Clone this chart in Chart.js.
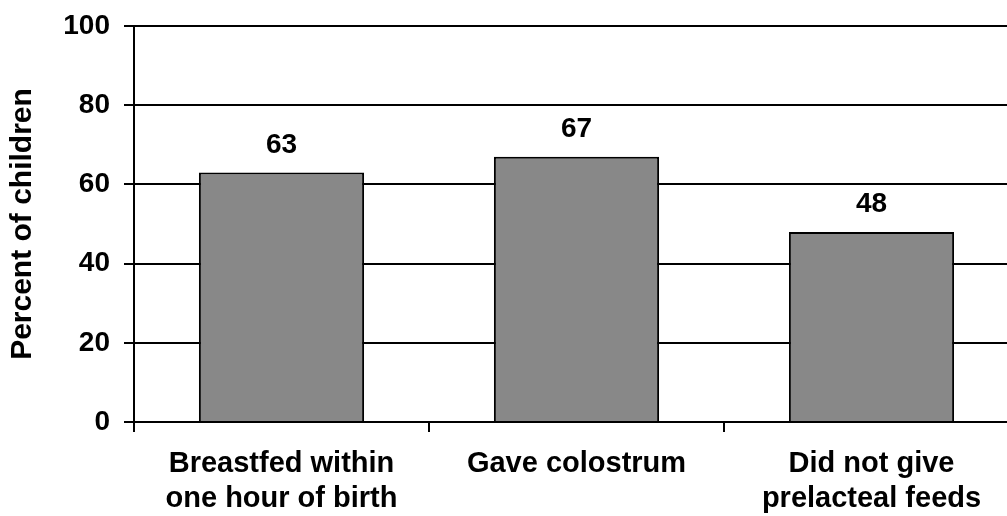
<!DOCTYPE html>
<html>
<head>
<meta charset="utf-8">
<script src="https://cdn.jsdelivr.net/npm/chart.js@4/dist/chart.umd.min.js"></script>
<style>
  html, body { margin: 0; padding: 0; background: #fff; overflow: hidden; }
  #wrap { width: 1019px; height: 516px; }
</style>
</head>
<body>
<div id="wrap"><canvas id="c" width="1019" height="516"></canvas></div>
<script>
const categories = [["Breastfed within", "one hour of birth"], "Gave colostrum", ["Did not give", "prelacteal feeds"]];
const values = [63, 67, 48];
const yTicks = [0, 20, 40, 60, 80, 100];
const yTitle = "Percent of children";

const FONT = "'Liberation Sans', Arial, sans-serif";

const valueLabels = {
  id: 'valueLabels',
  afterDatasetsDraw(chart) {
    const ctx = chart.ctx;
    const meta = chart.getDatasetMeta(0);
    ctx.save();
    ctx.font = "bold 28px " + FONT;
    ctx.fillStyle = "#000";
    ctx.textAlign = "center";
    ctx.textBaseline = "alphabetic";
    meta.data.forEach((bar, i) => {
      ctx.fillText(String(values[i]), bar.x, bar.y - 20);
    });
    ctx.restore();
  }
};

new Chart(document.getElementById('c'), {
  type: 'bar',
  data: {
    labels: categories,
    datasets: [{
      data: values,
      backgroundColor: '#888888',
      borderColor: '#000000',
      borderWidth: 2,
      borderSkipped: 'bottom',
      categoryPercentage: 1,
      barPercentage: 0.56
    }]
  },
  options: {
    responsive: false,
    animation: false,
    devicePixelRatio: 1,
    layout: { padding: { top: 26, right: 0, left: 0, bottom: 0 } },
    plugins: { legend: { display: false }, tooltip: { enabled: false } },
    scales: {
      x: {
        offset: true,
        grid: { display: true, drawOnChartArea: false, drawTicks: true, tickLength: 10, color: '#000', lineWidth: 2, offset: true },
        border: { display: true, color: '#000', width: 2 },
        ticks: { color: '#000', font: { family: FONT, size: 29, weight: 'bold' }, padding: 15, maxRotation: 0, autoSkip: false },
        afterFit(s) { s.height = 94; s.paddingLeft = 0; s.paddingRight = 0; }
      },
      y: {
        min: 0, max: 100,
        afterBuildTicks(s) { s.ticks = yTicks.map(v => ({ value: v })); },
        grid: { display: true, drawOnChartArea: true, drawTicks: true, tickLength: 10, color: '#000', lineWidth: 2 },
        border: { display: true, color: '#000', width: 2 },
        ticks: { color: '#000', font: { family: FONT, size: 28, weight: 'bold' }, padding: 14 },
        title: { display: true, text: yTitle, color: '#000', font: { family: FONT, size: 30, weight: 'bold' }, padding: { top: 5, bottom: 0 } },
        afterFit(s) { s.width = 134; s.paddingTop = 0; s.paddingBottom = 0; }
      }
    }
  },
  plugins: [valueLabels]
});
</script>
</body>
</html>
